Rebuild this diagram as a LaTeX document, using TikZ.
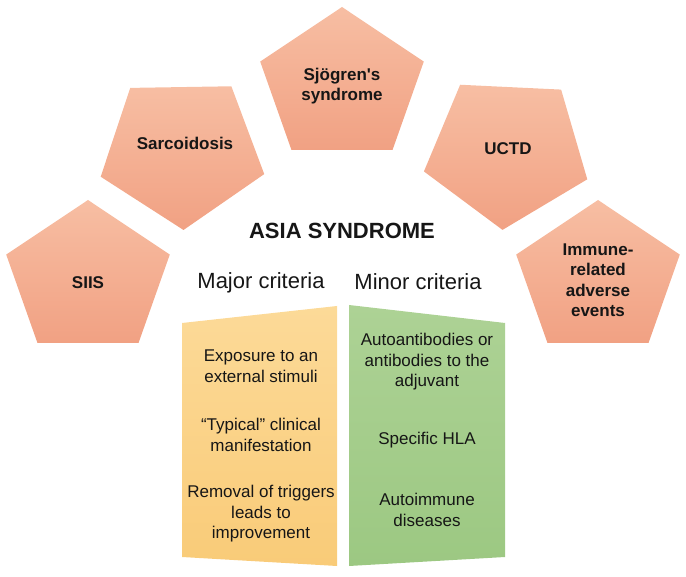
\documentclass[tikz,border=0pt]{standalone}
\usepackage{fontspec}
\setmainfont{Liberation Sans}
\usepackage{xcolor}
\definecolor{salmontop}{HTML}{F7BEA3}
\definecolor{salmonbot}{HTML}{F1A183}
\definecolor{majtop}{HTML}{FCDA98}
\definecolor{majbot}{HTML}{F9CB78}
\definecolor{mintop}{HTML}{ADD295}
\definecolor{minbot}{HTML}{9CC882}
\definecolor{ink}{HTML}{161616}

\begin{document}
\begin{tikzpicture}[x=1pt, y=1pt,
    pent/.style = {top color=salmontop, bottom color=salmonbot, draw=none},
    lbl/.style = {align=center, text=ink, font=\fontsize{17}{20.5}\selectfont\bfseries},
    head/.style = {text=ink, font=\fontsize{22}{24}\selectfont},
    crit/.style = {align=center, text=ink, font=\fontsize{17}{20.5}\selectfont}]
    \useasboundingbox (0,0) rectangle (686,-577);

    \shade[pent, shift={(88,-279)}] (90:86pt and 79pt) \foreach \k in {1,...,4} {-- (90+72*\k:86pt and 79pt)} -- cycle;
    \shade[pent, shift={(182,-151)}] (127:86pt and 79pt) \foreach \k in {1,...,4} {-- (127+72*\k:86pt and 79pt)} -- cycle;
    \shade[pent, shift={(342,-86)}] (90:86pt and 79pt) \foreach \k in {1,...,4} {-- (90+72*\k:86pt and 79pt)} -- cycle;
    \shade[pent, shift={(507,-151)}] (123:86pt and 79pt) \foreach \k in {1,...,4} {-- (123+72*\k:86pt and 79pt)} -- cycle;
    \shade[pent, shift={(598,-279)}] (90:86pt and 79pt) \foreach \k in {1,...,4} {-- (90+72*\k:86pt and 79pt)} -- cycle;

    \node[lbl] (siis) at (88,-283) {SIIS};
    \node[lbl] (sarc) at (185,-143) {Sarcoidosis};
    \node[lbl] (sjo) at (342,-86) {Sjögren\textquotesingle s\\syndrome};
    \node[lbl] (uctd) at (508,-149) {UCTD};
    \node[lbl] (irae) at (598,-280) {Immune-\\related\\adverse\\events};

    \node[text=ink, font=\fontsize{22}{24}\selectfont\bfseries] (asia) at (342,-231) {ASIA SYNDROME};
    \node[head] (major) at (261,-283) {Major criteria};
    \node[head] (minor) at (418,-282) {Minor criteria};

    \shade[top color=majtop, bottom color=majbot] (182,-323) -- (337,-306) -- (337,-566) -- (182,-557) -- cycle;
    \shade[top color=mintop, bottom color=minbot] (349,-305) -- (505,-323) -- (505,-557) -- (349,-566) -- cycle;

    \node[crit] (maj1) at (261,-366) {Exposure to an\\external stimuli};
    \node[crit] (maj2) at (261,-435) {“Typical” clinical\\manifestation};
    \node[crit] (maj3) at (261,-514) {Removal of triggers\\leads to\\improvement};
    \node[crit] (min1) at (427,-362) {Autoantibodies or\\antibodies to the\\adjuvant};
    \node[crit] (min2) at (427,-440) {Specific HLA};
    \node[crit] (min3) at (427,-510) {Autoimmune\\diseases};
\end{tikzpicture}
\end{document}
